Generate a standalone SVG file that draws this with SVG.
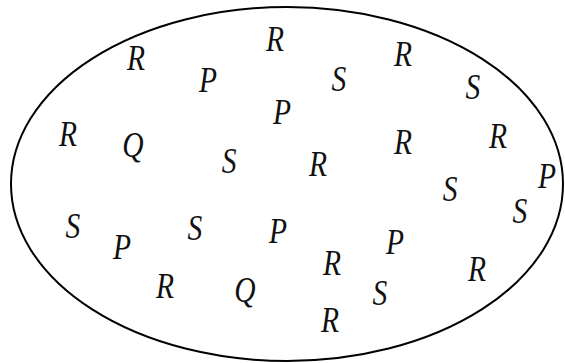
<svg xmlns="http://www.w3.org/2000/svg" width="565" height="363" viewBox="0 0 565 363">
<style>
.e{fill:none;stroke:#000;stroke-width:2}
text{font-family:"Liberation Serif","Times New Roman",serif;font-style:italic;font-size:36px;text-anchor:middle;fill:#111}
</style>
<rect width="565" height="363" fill="#fff"/>
<g id="set">
<ellipse class="e" cx="287" cy="184" rx="276" ry="177"/>
</g>
<g id="elements" transform="scale(0.82,1)">
<text x="165.9" y="70">R</text>
<text x="253.7" y="92">P</text>
<text x="335.4" y="51">R</text>
<text x="343.9" y="124">P</text>
<text x="82.9" y="146">R</text>
<text x="162.2" y="157">Q</text>
<text x="279.3" y="173">S</text>
<text x="413.4" y="91">S</text>
<text x="491.5" y="66">R</text>
<text x="576.8" y="99">S</text>
<text x="491.5" y="154">R</text>
<text x="607.3" y="148">R</text>
<text x="387.8" y="176">R</text>
<text x="667.1" y="188">P</text>
<text x="548.8" y="201">S</text>
<text x="634.1" y="223">S</text>
<text x="89" y="238">S</text>
<text x="148.8" y="259">P</text>
<text x="237.8" y="240">S</text>
<text x="339" y="243">P</text>
<text x="201.2" y="298">R</text>
<text x="298.8" y="302">Q</text>
<text x="481.7" y="254">P</text>
<text x="404.9" y="275">R</text>
<text x="463.4" y="305">S</text>
<text x="581.7" y="281">R</text>
<text x="402.4" y="332">R</text>
</g>
</svg>
